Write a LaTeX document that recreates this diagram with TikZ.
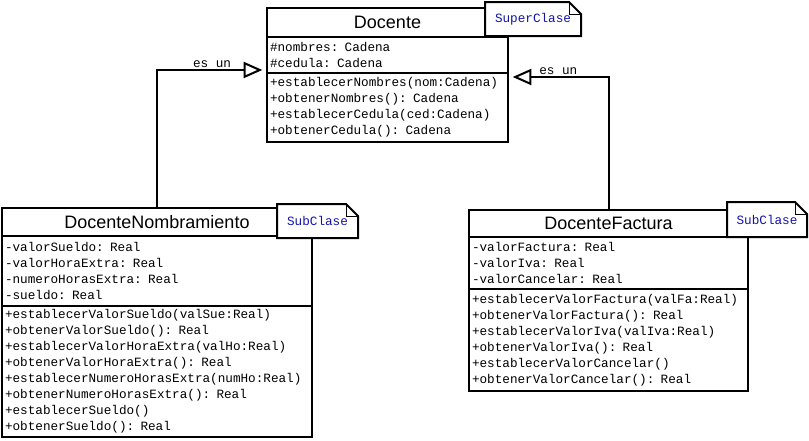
\documentclass[tikz,border=0pt]{standalone}
\usepackage{fontspec}
\setmainfont{Liberation Sans}
\newfontfamily\umlmono{Liberation Mono}
\usetikzlibrary{positioning,arrows.meta,calc}
\definecolor{notetext}{RGB}{20,20,170}

\begin{document}
\begin{tikzpicture}[x=0.75pt, y=-0.75pt,
  every node/.style={outer sep=0pt},
  ctitle/.style={draw, line width=1.5pt, inner sep=0pt, font=\fontsize{13.5}{16}\selectfont},
  cbody/.style={draw, line width=1.5pt, inner xsep=2.25pt, inner ysep=0pt, align=left, font=\umlmono\fontsize{9.5}{12}\selectfont},
  note/.style={fill=white, inner sep=0pt, text=notetext, font=\umlmono\fontsize{9.5}{12}\selectfont},
  isa/.style={line width=1.5pt, -{Triangle[open, length=14pt, width=12pt]}, shorten >=3.5pt},
  lbl/.style={font=\umlmono\fontsize{9.5}{12}\selectfont, inner sep=1.5pt}]

  \useasboundingbox (0,0) rectangle (809,440);

  %Superclass
  \node[ctitle, minimum width=180.75pt, minimum height=21.75pt] (docT) at (387.5,22.5) {Docente};
  \node[cbody, text width=176.25pt, minimum height=27pt, below=0pt of docT] (docA)
    {\#nombres: Cadena\\\#cedula: Cadena};
  \node[cbody, text width=176.25pt, minimum height=51.75pt, below=0pt of docA] (docM)
    {+establecerNombres(nom:Cadena)\\+obtenerNombres(): Cadena\\+establecerCedula(ced:Cadena)\\+obtenerCedula(): Cadena};

  %Subclasses
  \node[ctitle, minimum width=232.5pt, minimum height=21pt] (nomT) at (157,222) {DocenteNombramiento};
  \node[cbody, text width=228pt, minimum height=52.5pt, below=0pt of nomT] (nomA)
    {-valorSueldo: Real\\-valorHoraExtra: Real\\-numeroHorasExtra: Real\\-sueldo: Real};
  \node[cbody, text width=228pt, minimum height=98.25pt, below=0pt of nomA] (nomM)
    {+establecerValorSueldo(valSue:Real)\\+obtenerValorSueldo(): Real\\+establecerValorHoraExtra(valHo:Real)\\+obtenerValorHoraExtra(): Real\\+establecerNumeroHorasExtra(numHo:Real)\\+obtenerNumeroHorasExtra(): Real\\+establecerSueldo()\\+obtenerSueldo(): Real};

  \node[ctitle, minimum width=209.25pt, minimum height=20.25pt] (facT) at (608.5,223.5) {DocenteFactura};
  \node[cbody, text width=204.75pt, minimum height=39pt, below=0pt of facT] (facA)
    {-valorFactura: Real\\-valorIva: Real\\-valorCancelar: Real};
  \node[cbody, text width=204.75pt, minimum height=76.5pt, below=0pt of facA] (facM)
    {+establecerValorFactura(valFa:Real)\\+obtenerValorFactura(): Real\\+establecerValorIva(valIva:Real)\\+obtenerValorIva(): Real\\+establecerValorCancelar()\\+obtenerValorCancelar(): Real};

  %Notes
  \node[note, minimum width=72pt, minimum height=25.5pt] (supN) at (533,19) {SuperClase};
  \node[note, minimum width=60.75pt, minimum height=25.5pt] (subN) at (317.5,221) {SubClase};
  \node[note, minimum width=60pt, minimum height=26.25pt] (subF) at (767,219.5) {SubClase};
  \foreach \n in {supN,subN,subF}{
    \draw[line width=1.5pt] (\n.north west) -- ([xshift=-9pt]\n.north east) -- ([yshift=-9pt]\n.north east)
      -- (\n.south east) -- (\n.south west) -- cycle;
    \draw[line width=0.75pt] ([xshift=-9pt]\n.north east) |- ([yshift=-9pt]\n.north east);
  }

  %Generalizations
  \draw[isa] (nomT.north) |- node[lbl, above, pos=0.75] {es un} ($(docM.north west)+(0,-3)$);
  \draw[isa] (facT.north) |- node[lbl, above, pos=0.75] {es un} ($(docM.north east)+(0,4)$);

\end{tikzpicture}
\end{document}
